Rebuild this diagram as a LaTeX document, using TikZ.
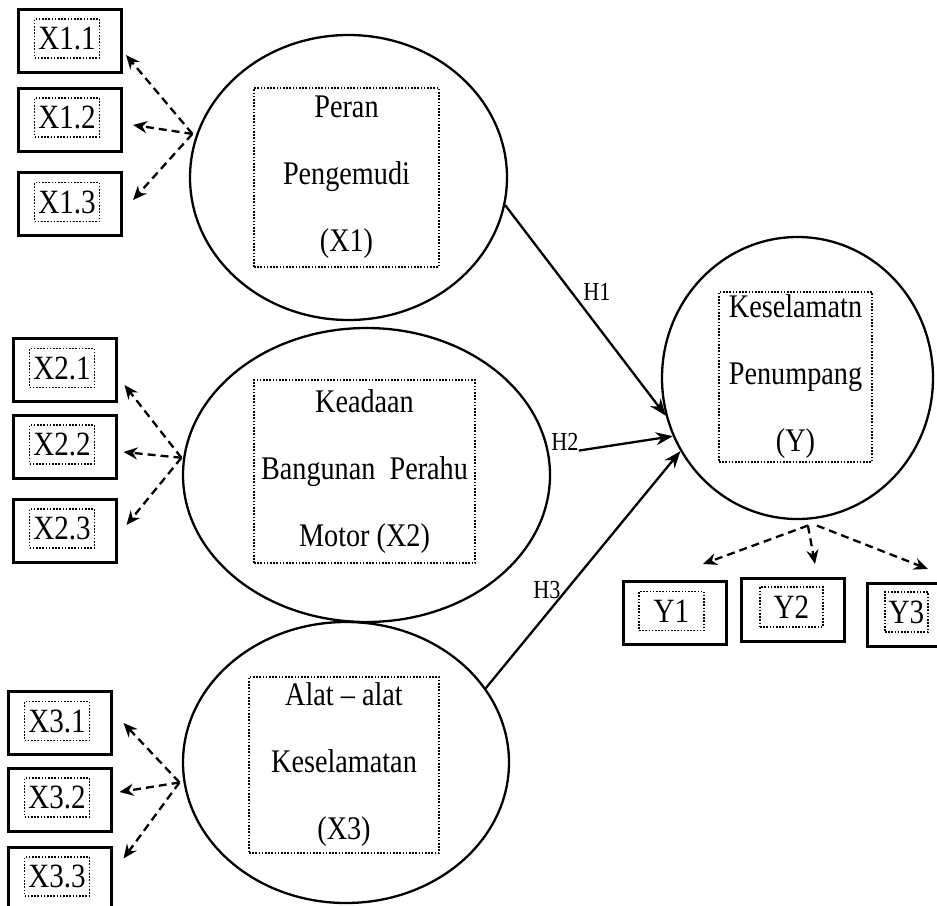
\documentclass[tikz,border=0pt]{standalone}
\usepackage{fontspec}
\setmainfont{Liberation Serif}[FakeStretch=0.855]
\usetikzlibrary{shapes.geometric,arrows.meta,calc}
\begin{document}
\begin{tikzpicture}[x=1pt,y=-1pt,
  lat/.style={draw, ellipse, line width=2.3pt, inner sep=0},
  inbox/.style={draw, dash pattern=on 1.6pt off 1.6pt, line width=1.6pt, inner sep=0, align=center, font=\fontsize{33}{67}\selectfont},
  ind/.style={draw, line width=3pt, minimum width=103pt, minimum height=63pt, inner sep=0},
  indt/.style={draw, dash pattern=on 1.6pt off 1.6pt, line width=1.6pt, minimum width=65pt, minimum height=39pt, inner sep=0, font=\fontsize{34}{40}\selectfont},
  lab/.style={inner sep=0, font=\fontsize{26}{30}\selectfont},
  hyp/.style={line width=2.3pt, -{Stealth[length=17pt,width=13pt]}},
  load/.style={line width=2.3pt, dash pattern=on 8pt off 5pt, -{Stealth[length=14pt,width=12pt]}}
]
\useasboundingbox (0,0) rectangle (937,905);
\clip (0,0) rectangle (937,905);

% latent variables
\node[lat, minimum width=317pt, minimum height=285pt] (e1) at (348.5,177.5) {};
\node[lat, minimum width=367pt, minimum height=294pt] (e2) at (366.5,475) {};
\node[lat, minimum width=326pt, minimum height=281pt] (e3) at (346,762.5) {};
\node[lat, minimum width=271pt, minimum height=282pt] (ey) at (797.5,378) {};

\node[inbox, minimum width=185pt, minimum height=179pt] (b1) at (346.5,177.5) {Peran\\Pengemudi\\(X1)};
\node[inbox, minimum width=221pt, minimum height=183pt] (b2) at (364.5,471.5) {Keadaan\\Bangunan\ \ Perahu\\Motor (X2)};
\node[inbox, minimum width=190pt, minimum height=176pt] (b3) at (344,765) {Alat – alat\\Keselamatan\\(X3)};
\node[inbox, minimum width=153pt, minimum height=170pt] (by) at (795.5,377) {Keselamatn\\Penumpang\\(Y)};

% indicators
\foreach \n/\px/\py/\t in {x11/69.5/40.5/X1.1, x12/69.5/119.5/X1.2, x13/69.5/204/X1.3,
  x21/64.5/370/X2.1, x22/64.5/446.5/X2.2, x23/64.5/530.5/X2.3,
  x31/59.5/723/X3.1, x32/59.5/799.5/X3.2, x33/59.5/878.5/X3.3}{
  \node[ind] (\n) at (\px,\py) {};
  \node[indt] (\n-in) at ($(\n)+(-2.5,-2)$) {\t};
}
\node[ind] (y1) at (674.5,613) {};
\node[indt] (y1-in) at ($(y1)+(-3,-2)$) {Y1};
\node[ind] (y2) at (792.5,610) {};
\node[indt, minimum width=63pt, minimum height=40pt] (y2-in) at ($(y2)+(-1,-3)$) {Y2};
\node[ind] (y3) at (918.5,615) {};
\node[indt, minimum width=43pt, minimum height=40pt] (y3-in) at ($(y3)+(-12,-3)$) {Y3};

% loading arrows
\coordinate (j1) at ($(e1.164)+(-4,0)$);
\draw[load] (j1) -- ($(x11.east)+(3.5,14.5)$);
\draw[load] (j1) -- ($(x12.east)+(10.5,5.5)$);
\draw[load] (j1) -- ($(x13.east)+(10.5,-4)$);

\coordinate (j2) at ($(e2.174)+(-2,2)$);
\draw[load] (j2) -- ($(x21.east)+(7,15)$);
\draw[load] (j2) -- ($(x22.east)+(6,5.5)$);
\draw[load] (j2) -- ($(x23.east)+(9,-5.5)$);

\coordinate (j3) at ($(e3.187)+(-4,0)$);
\draw[load] (j3) -- ($(x31.east)+(11,0)$);
\draw[load] (j3) -- ($(x32.east)+(7,-7.5)$);
\draw[load] (j3) -- ($(x33.north east)+(11,13)$);

\coordinate (jy) at ($(ey.-85)+(-2,6)$);
\coordinate (jy2) at ($(jy)+(9,0)$);
\draw[load] (jy) -- ($(y1.north)+(28.5,-16)$);
\draw[load] (jy) -- ($(y2.north)+(22.5,-13)$);
\draw[load] (jy2) -- ($(y3.north)+(9.5,-13)$);

% hypotheses
\node[lab] (h1) at (597,292) {H1};
\node[lab] (h2) at (565,442) {H2};
\node[lab] (h3) at (547,590) {H3};
\draw[hyp] (e1.-10) -- (ey.196);
\draw[hyp] (h2.base east) -- (ey.205);
\draw[hyp] (e3.28) -- (ey.212);
\end{tikzpicture}
\end{document}
